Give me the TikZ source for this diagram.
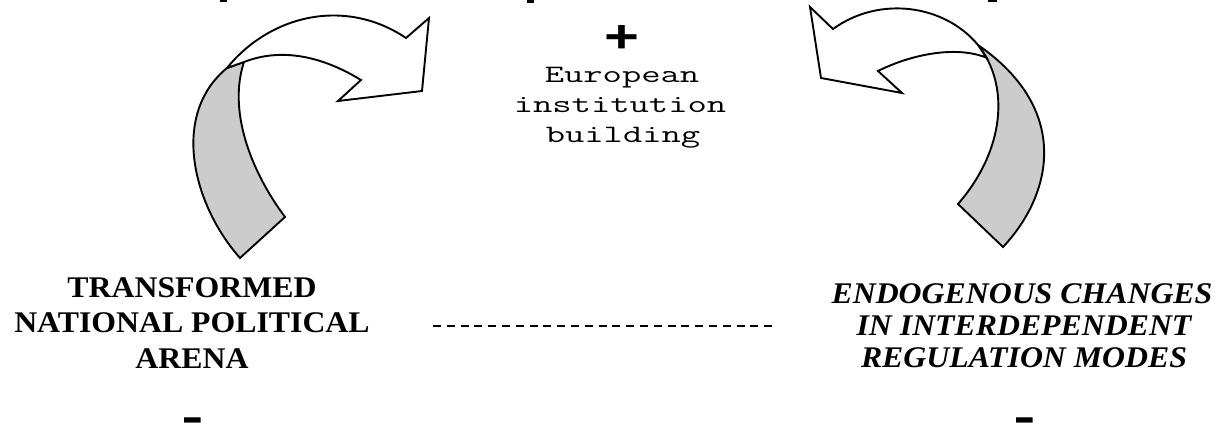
\documentclass[tikz,border=0pt]{standalone}
\usepackage{fontspec}
\setmainfont{Liberation Serif}
\newfontfamily\monostretch[FakeStretch=1.5]{Latin Modern Mono}
\newfontfamily\signfont[FakeStretch=1.3]{Liberation Sans}
\newfontfamily\minusfont{Liberation Sans}
\newfontfamily\serifwide[FakeStretch=1.06]{Liberation Serif}
\definecolor{ribbongray}{RGB}{204,204,204}
\tikzset{
  ribbon/.style={draw=black, line width=1.9pt, line join=miter},
  ribbonback/.style={ribbon, fill=ribbongray},
  ribbonfront/.style={ribbon, fill=white},
  leftcaps/.style={font=\serifwide\bfseries\fontsize{30}{36}\selectfont, anchor=base, inner sep=0pt},
  rightcaps/.style={font=\serifwide\bfseries\itshape\fontsize{30}{36}\selectfont, anchor=base, inner sep=0pt},
  monotext/.style={font=\monostretch\fontsize{25}{29.5}\selectfont, anchor=base, inner sep=0pt},
  plussign/.style={font=\signfont\bfseries\fontsize{46}{50}\selectfont, anchor=base, inner sep=0pt},
  minussign/.style={font=\minusfont\fontsize{68}{70}\selectfont, anchor=base, inner sep=0pt},
  linkline/.style={line width=2pt, dash pattern=on 8pt off 5.8pt},
  clipped/.style={fill=black}
}
\begin{document}
\begin{tikzpicture}[x=1pt,y=-1pt]
\useasboundingbox (0,0) rectangle (1227,428);
\fill[white] (0,0) rectangle (1227,428);

% fragments of a clipped title line at the top edge
\fill[clipped] (220,0) rectangle (227,2.5);
\fill[clipped] (527,0) rectangle (534,3);
\fill[clipped] (988,0) rectangle (997,2.5);

% left curved arrow
\draw[ribbonback] (240,258) .. controls (193,205) and (170,115) .. (227,68)
  -- (244,62) .. controls (228,110) and (250,170) .. (285,217) -- cycle;
\draw[ribbonfront] (227,68) .. controls (270,15) and (345,-3) .. (406,38)
  -- (429,18) -- (422,91) -- (338,101) -- (361,80)
  .. controls (320,55) and (280,48) .. (244,62) -- cycle;

% right curved arrow
\draw[ribbonback] (958,204) .. controls (1005,150) and (1010,85) .. (978,45)
  .. controls (1072,110) and (1052,195) .. (1003,247) -- cycle;
\draw[ribbonfront] (978,45) .. controls (945,5) and (880,-5) .. (833,29)
  -- (810,7) -- (821,78) -- (902,93) -- (878,71)
  .. controls (910,55) and (955,45) .. (986.5,57.7) -- cycle;

% centre
\node[plussign] (plus) at (622,52.4) {+};
\node[monotext] (eu1) at (622,83) {European};
\node[monotext] (eu2) at (620,113) {institution};
\node[monotext] (eu3) at (623,142) {building};

% left block
\node[leftcaps] (tn1) at (192,297) {TRANSFORMED};
\node[leftcaps] (tn2) at (192,332) {NATIONAL POLITICAL};
\node[leftcaps] (tn3) at (192,368) {ARENA};

% right block
\node[rightcaps] (ec1) at (1022,303) {ENDOGENOUS CHANGES};
\node[rightcaps] (ec2) at (1024,335) {IN INTERDEPENDENT};
\node[rightcaps] (ec3) at (1024,367) {REGULATION MODES};

% dashed link
\coordinate (dashL) at (433,326);
\coordinate (dashR) at (777,326);
\draw[linkline] (dashL) -- (dashR);

% minus signs
\node[minussign] (minL) at (192.5,438.6) {-};
\node[minussign] (minR) at (1024.5,438.6) {-};
\end{tikzpicture}
\end{document}
